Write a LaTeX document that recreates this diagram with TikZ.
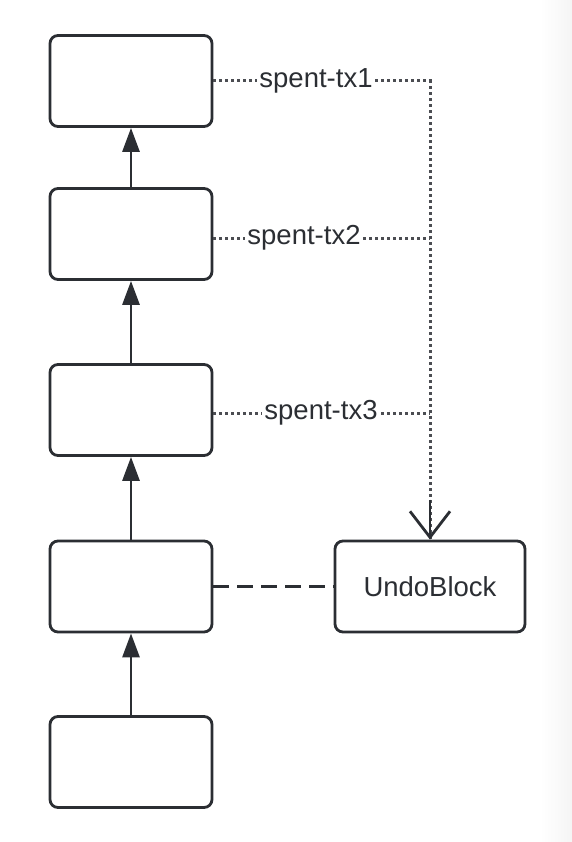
\documentclass[tikz,border=0pt]{standalone}
\usepackage{fontspec}
\setmainfont{Liberation Sans}
\usetikzlibrary{arrows.meta}
\definecolor{ink}{HTML}{2B2E33}
\begin{document}
\begin{tikzpicture}[x=1pt,y=-1pt,
  blk/.style={draw=ink,line width=2.8pt,rounded corners=8pt,minimum width=162pt,minimum height=91pt,inner sep=0pt,fill=white},
  up/.style={draw=ink,line width=2.8pt,-{Triangle[length=24pt,width=17pt]}},
  dots/.style={draw=ink!85,line width=3pt,dash pattern=on 2.6pt off 3.4pt},
  lbl/.style={fill=white,inner sep=2pt,font=\fontsize{27.5}{30}\selectfont,text=ink},
  dsh/.style={draw=ink,line width=2.8pt,dash pattern=on 16pt off 8pt}]
\useasboundingbox (0,0) rectangle (572,842);
\fill[white] (0,0) rectangle (572,842);
\shade[left color=white,right color=black!4] (540,0) rectangle (572,842);
\node[blk] (b1) at (131,81) {};
\node[blk] (b2) at (131,234) {};
\node[blk] (b3) at (131,410) {};
\node[blk] (b4) at (131,586.5) {};
\node[blk] (b5) at (131,762) {};
\node[blk,minimum width=190pt,font=\fontsize{27.5}{30}\selectfont,text=ink] (ub) at (430,586.5) {UndoBlock};
\draw[up] (b2) -- (b1);
\draw[up] (b3) -- (b2);
\draw[up] (b4) -- (b3);
\draw[up] (b5) -- (b4);
\coordinate (c1) at (430,81);
\coordinate (c2) at (430,238);
\coordinate (c3) at (430,413);
\draw[dots] (b1.east |- c1) -- (c1) -- (ub.north);
\draw[dots] (b2.east |- c2) -- (c2);
\draw[dots] (b3.east |- c3) -- (c3);
\draw[ink,line width=2.8pt,-{Straight Barb[length=26pt,width=40pt]}] ([yshift=40pt]ub.north) -- (ub.north);
\draw[dsh] (b4.east) -- (ub.west);
\node[lbl] (t1) at (316,81) {spent-tx1};
\node[lbl] (t2) at (304,238) {spent-tx2};
\node[lbl] (t3) at (321,413) {spent-tx3};
\end{tikzpicture}
\end{document}
